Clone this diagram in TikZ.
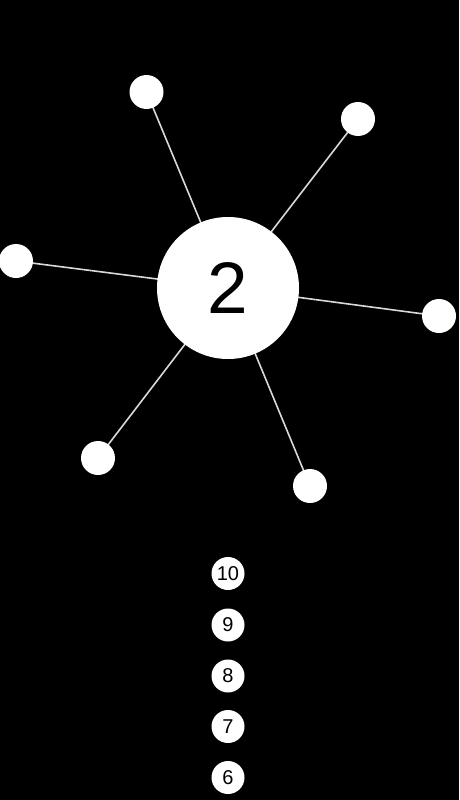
\documentclass[tikz,border=0pt]{standalone}
\usepackage{fontspec}
\setmainfont{Liberation Sans}
\begin{document}
\begin{tikzpicture}[x=1pt,y=-1pt,
  hub/.style={circle,fill=white,minimum size=142pt,inner sep=0pt,font=\fontsize{73}{73}\selectfont},
  pin/.style={circle,fill=white,minimum size=34pt,inner sep=0pt},
  numpin/.style={circle,fill=white,minimum size=33pt,inner sep=0pt,font=\fontsize{20}{20}\selectfont},
  spoke/.style={draw=white!85!black,line width=1.6pt}]
\fill[black] (0,0) rectangle (459,800);
\useasboundingbox (0,0) rectangle (459,800);
\coordinate (c) at (228,288);
\coordinate (p1) at (146.5,92);
\coordinate (p2) at (358,119);
\coordinate (p3) at (16,261);
\coordinate (p4) at (439,316);
\coordinate (p5) at (98,458);
\coordinate (p6) at (310,486);
\foreach \i in {1,...,6} \draw[spoke] (c) -- (p\i);
\node[hub] (hubnode) at (c) {2};
\foreach \i in {1,...,6} \node[pin] (n\i) at (p\i) {};
\node[numpin] (q10) at (228,573.5) {10};
\node[numpin] (q9) at (228,625) {9};
\node[numpin] (q8) at (228,676) {8};
\node[numpin] (q7) at (228,726.5) {7};
\node[numpin] (q6) at (228,777.5) {6};
\end{tikzpicture}
\end{document}
